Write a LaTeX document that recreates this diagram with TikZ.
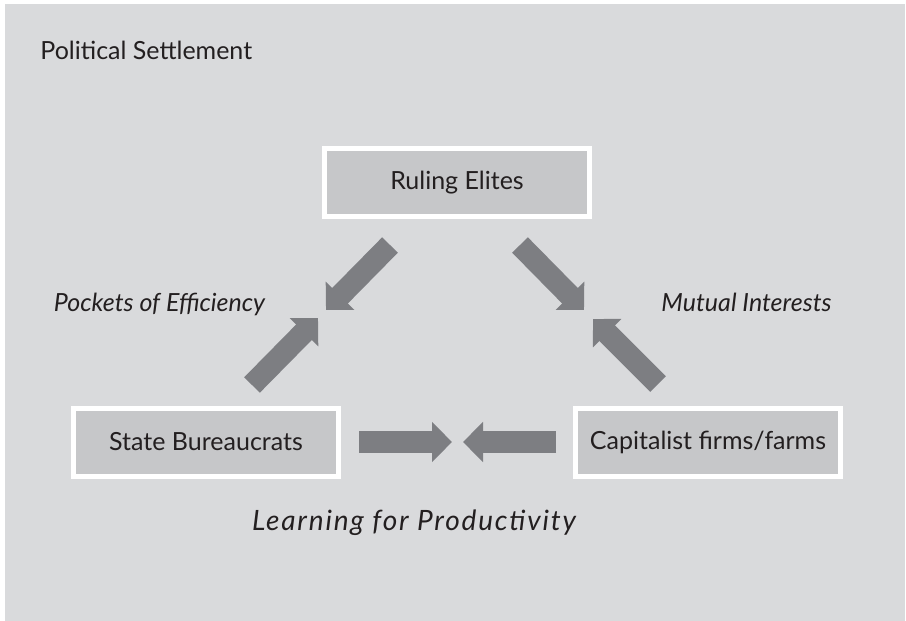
\documentclass[tikz,border=0pt]{standalone}
\usepackage{fontspec}
\setmainfont{Lato}
\usepackage{tikz}
\usetikzlibrary{arrows.meta}
\definecolor{panelgray}{HTML}{D9DADC}
\definecolor{boxgray}{HTML}{C6C7C9}
\definecolor{arrowgray}{HTML}{7D7E82}
\definecolor{inkgray}{HTML}{231F20}
\tikzset{actor/.style={draw=white,line width=2.5pt,fill=boxgray,text=inkgray,
    minimum width=132.5pt,minimum height=34pt,inner sep=0pt,font=\fontsize{12.5}{15}\selectfont},
  blockarrow/.style={draw=arrowgray,line width=11pt,line cap=butt,
    -{Triangle[length=10pt,width=19.5pt]}},
  linklabel/.style={text=inkgray,inner sep=0pt,anchor=base,font=\fontsize{12.5}{15}\selectfont\itshape}
}

\begin{document}
\begin{tikzpicture}[x=0.5pt,y=-0.5pt]
                \useasboundingbox (0,0) rectangle (906,621);
                \fill[panelgray] (5,4) rectangle (905,621);
                
                \node[text=inkgray,inner sep=0pt,anchor=base west,font=\fontsize{12.5}{15}\selectfont] (ps) at (40,60) {Political Settlement};
                
                % Actors
                \node[actor] (elites) at (457,182.5) {Ruling Elites};
                \node[actor] (bureau) at (206,442) {State Bureaucrats};
                \node[actor] (firms) at (708,442) {Capitalist firms/farms};
                
                % Arrow ends
                \coordinate (elL) at (390,245);
                \coordinate (elR) at (520,245);
                \coordinate (buT) at (252,385);
                \coordinate (fiT) at (658,384);
                \coordinate (buR) at (359,442);
                \coordinate (fiL) at (556,442);
                \coordinate (tipA) at (326,310);
                \coordinate (tipB) at (318,318);
                \coordinate (tipC) at (584,310);
                \coordinate (tipD) at (593,319);
                \coordinate (tipE) at (452,442);
                \coordinate (tipF) at (463,442);
                
                \draw[blockarrow] (elL) -- (tipA);
                \draw[blockarrow] (buT) -- (tipB);
                \draw[blockarrow] (elR) -- (tipC);
                \draw[blockarrow] (fiT) -- (tipD);
                \draw[blockarrow] (buR) -- (tipE);
                \draw[blockarrow] (fiL) -- (tipF);
                
                % Labels
                \node[linklabel] (poe) at (159.5,311) {Pockets of Efficiency};
                \node[linklabel] (mi) at (746.5,311) {Mutual Interests};
                \node[linklabel,font=\fontsize{14}{17}\selectfont\itshape\addfontfeature{LetterSpace=6.5}] (lfp) at (414,530) {Learning for Productivity};
            \end{tikzpicture}
\end{document}
